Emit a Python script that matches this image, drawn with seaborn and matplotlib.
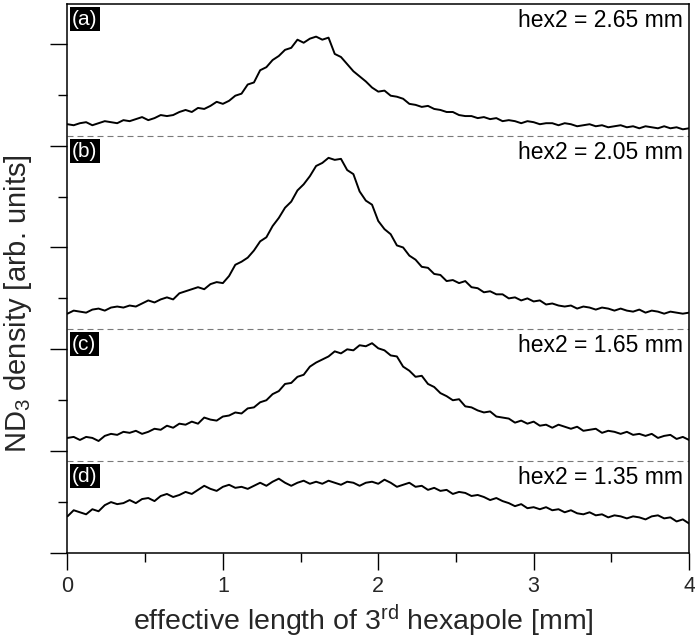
import numpy as np
import pandas as pd
import matplotlib
matplotlib.use("Agg")
import matplotlib.pyplot as plt
from matplotlib.ticker import MultipleLocator, NullFormatter
import seaborn as sns

# ---------------- data ----------------
x_mm = np.round(np.linspace(0, 4, 101), 2)

curve_a = [
    42.1, 42.0, 42.2, 42.3, 42.0, 42.2, 42.4, 42.3, 42.2, 42.5,
    42.4, 42.6, 42.8, 42.5, 42.7, 43.0, 42.9, 43.0, 43.3, 43.5,
    43.3, 43.7, 43.6, 43.9, 44.3, 44.1, 44.4, 44.9, 45.1, 46.0,
    46.2, 47.4, 47.7, 48.4, 48.8, 49.4, 49.6, 50.4, 50.1, 50.5,
    50.7, 50.4, 50.6, 49.0, 48.7, 48.0, 47.3, 46.8, 46.3, 45.7,
    45.3, 45.4, 44.9, 44.8, 44.6, 44.1, 44.0, 43.8, 43.9, 43.6,
    43.5, 43.3, 43.3, 43.0, 42.9, 42.9, 42.7, 42.8, 42.6, 42.7,
    42.4, 42.5, 42.4, 42.2, 42.4, 42.3, 42.1, 42.2, 42.2, 42.0,
    42.2, 42.1, 41.9, 42.0, 42.1, 41.9, 42.0, 41.8, 41.9, 42.0,
    41.8, 41.9, 41.7, 41.9, 41.8, 41.7, 41.9, 41.7, 41.8, 41.6,
    41.7]

curve_b = [
    23.5, 23.8, 23.7, 23.6, 23.9, 24.0, 23.8, 24.1, 24.2, 24.1,
    24.3, 24.2, 24.5, 24.8, 24.6, 24.9, 25.1, 24.9, 25.5, 25.7,
    25.9, 26.1, 25.9, 26.4, 26.6, 26.5, 27.2, 28.3, 28.6, 29.0,
    29.7, 30.6, 31.0, 32.1, 32.9, 33.9, 34.5, 35.6, 36.2, 37.0,
    38.0, 38.3, 38.8, 38.6, 38.7, 37.6, 37.2, 35.5, 34.6, 34.2,
    32.6, 31.8, 31.3, 30.2, 30.0, 29.2, 28.8, 28.1, 28.0, 27.4,
    27.3, 26.7, 26.8, 26.5, 26.7, 26.1, 26.0, 25.6, 25.7, 25.4,
    25.4, 25.0, 25.1, 24.8, 25.0, 24.7, 24.8, 24.4, 24.5, 24.3,
    24.2, 24.3, 24.0, 24.2, 24.1, 23.9, 24.1, 24.0, 23.8, 24.0,
    23.8, 23.7, 23.9, 23.6, 23.8, 23.7, 23.5, 23.7, 23.6, 23.5,
    23.6]

curve_c = [
    11.3, 11.4, 11.1, 11.4, 11.3, 11.0, 11.5, 11.7, 11.6, 11.9,
    11.8, 12.0, 11.7, 11.9, 12.2, 12.1, 12.5, 12.3, 12.7, 12.6,
    12.9, 12.7, 13.3, 13.1, 13.0, 13.4, 13.5, 13.8, 13.7, 14.2,
    14.3, 14.8, 15.0, 15.6, 15.9, 16.6, 16.7, 17.3, 17.5, 18.3,
    18.7, 19.0, 19.3, 19.8, 19.6, 20.0, 19.9, 20.4, 20.3, 20.6,
    20.1, 19.9, 19.4, 19.3, 18.3, 17.9, 17.3, 17.4, 16.6, 16.3,
    15.7, 15.4, 15.0, 15.1, 14.4, 14.3, 14.0, 13.8, 13.9, 13.4,
    13.3, 13.2, 12.8, 13.0, 12.7, 12.9, 12.5, 12.6, 12.3, 12.6,
    12.4, 12.2, 12.4, 12.0, 12.1, 12.2, 11.8, 12.0, 11.9, 11.7,
    11.9, 11.6, 11.7, 11.5, 11.7, 11.3, 11.5, 11.6, 11.2, 11.4,
    11.1]

curve_d = [
    3.6, 4.2, 4.0, 3.8, 4.3, 4.1, 4.7, 5.0, 4.8, 4.9,
    5.2, 4.9, 5.3, 5.4, 5.1, 5.6, 5.8, 5.5, 5.7, 6.0,
    5.8, 6.2, 6.6, 6.3, 6.1, 6.5, 6.7, 6.4, 6.5, 6.3,
    6.6, 6.9, 6.6, 7.0, 7.3, 6.9, 6.6, 6.9, 7.1, 6.8,
    7.0, 6.8, 7.1, 6.9, 6.7, 7.0, 6.9, 6.6, 6.9, 7.0,
    6.8, 7.2, 6.9, 6.5, 6.7, 6.9, 6.5, 6.6, 6.2, 6.4,
    6.1, 6.2, 5.8, 6.0, 5.9, 5.6, 5.7, 5.5, 5.2, 5.4,
    5.1, 4.9, 4.6, 4.8, 4.4, 4.5, 4.3, 4.5, 4.2, 4.3,
    4.0, 4.2, 3.9, 3.8, 4.0, 3.7, 3.8, 3.5, 3.7, 3.6,
    3.4, 3.6, 3.5, 3.3, 3.6, 3.7, 3.4, 3.5, 3.1, 3.3,
    2.9]

panel_letters = ["(a)", "(b)", "(c)", "(d)"]
hex2_labels = ["hex2 = 2.65 mm", "hex2 = 2.05 mm", "hex2 = 1.65 mm", "hex2 = 1.35 mm"]
separators = [40.9, 22.0, 9.0]
y_top = 53.9
x_ticks = [0, 1, 2, 3, 4]

# ---------------- style ----------------
sns.set_style("ticks")
plt.rcParams["font.family"] = ["Liberation Sans", "DejaVu Sans"]
plt.rcParams["mathtext.fontset"] = "custom"
plt.rcParams["mathtext.rm"] = "Liberation Sans"
plt.rcParams["mathtext.it"] = "Liberation Sans:italic"
plt.rcParams["mathtext.bf"] = "Liberation Sans:bold"

fig = plt.figure(figsize=(6.95, 6.4), dpi=100)
ax = fig.add_axes([0.0971, 0.1359, 0.8943, 0.8578])

curves = [curve_a, curve_b, curve_c, curve_d]
frames = []
for lab, vals in zip(panel_letters, curves):
    frames.append(pd.DataFrame({"x": x_mm, "y": vals, "panel": lab}))
df = pd.concat(frames, ignore_index=True)

for lab in panel_letters:
    sns.lineplot(data=df[df["panel"] == lab], x="x", y="y", ax=ax,
                 color="black", linewidth=1.4, estimator=None, sort=False)

for s in separators:
    ax.axhline(s, color="#7a7a7a", linewidth=0.8, dashes=(5.4, 3.6), zorder=1)

ax.set_xlim(0, 4)
ax.set_ylim(0, y_top)
ax.set_xticks(x_ticks)
ax.set_xticklabels([str(t) for t in x_ticks])
ax.xaxis.set_minor_locator(MultipleLocator(0.5))
ax.yaxis.set_major_locator(MultipleLocator(10))
ax.yaxis.set_minor_locator(MultipleLocator(5))
ax.yaxis.set_major_formatter(NullFormatter())
ax.tick_params(axis="both", which="major", direction="out", length=12.5, width=1.0,
               color="black", labelsize=15.5, pad=4)
ax.tick_params(axis="both", which="minor", direction="out", length=6.5, width=1.0,
               color="black")
for sp in ax.spines.values():
    sp.set_linewidth(1.1)
    sp.set_color("black")

ax.set_xlabel("effective length of 3$^{\\mathrm{rd}}$ hexapole [mm]", fontsize=20.5)
ax.set_ylabel("ND$_3$ density [arb. units]", fontsize=21)
ax.xaxis.set_label_coords(0.476, -0.091)
ax.yaxis.set_label_coords(-0.054, 0.455)

tops = [y_top] + separators
trans = ax.get_yaxis_transform()
for top, letter, hexlab in zip(tops, panel_letters, hex2_labels):
    ax.annotate(letter, xy=(0, top), xycoords=trans, xytext=(3.3, -4.0),
                textcoords="offset points", ha="left", va="top", fontsize=15,
                color="white",
                bbox=dict(boxstyle="square,pad=0.12", fc="black", ec="none"))
    ax.annotate(hexlab, xy=(1, top), xycoords=trans, xytext=(-4.3, -3.5),
                textcoords="offset points", ha="right", va="top", fontsize=16.5,
                color="black")

fig.savefig("out.png", dpi=100)
